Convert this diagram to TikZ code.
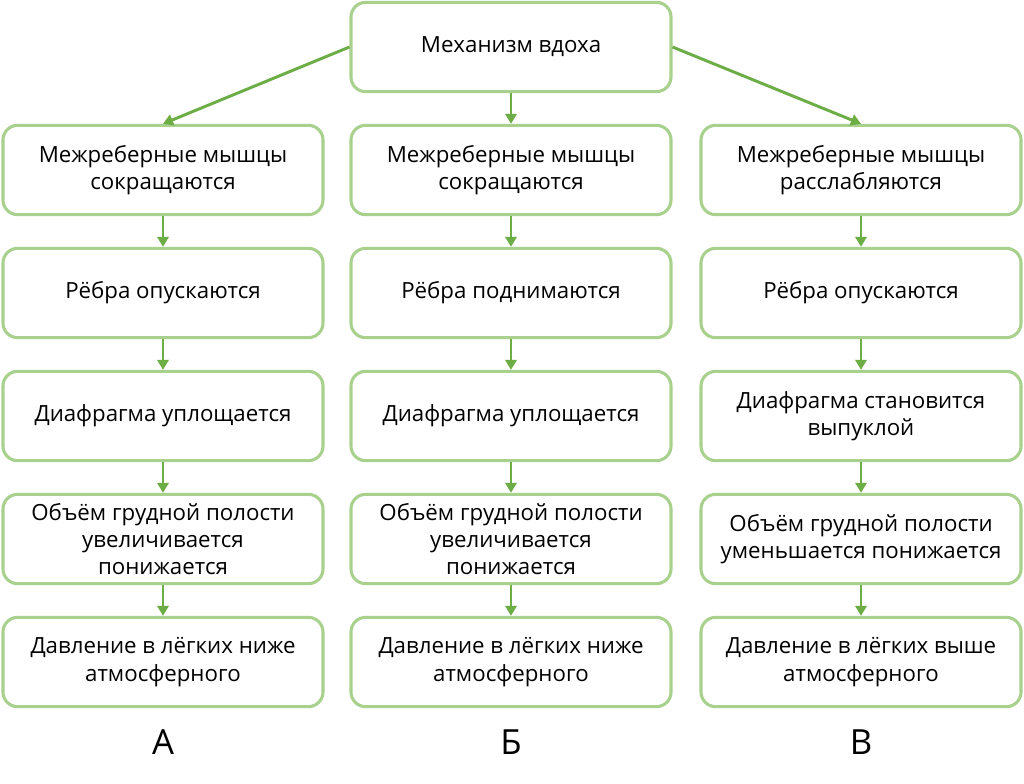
\documentclass[tikz,border=0pt]{standalone}
\usepackage{fontspec}
\setmainfont{Open Sans}
\usetikzlibrary{arrows.meta, positioning}

\definecolor{boxgreen}{HTML}{A9D18E}
\definecolor{arrowgreen}{HTML}{6DAD46}

\begin{document}
\begin{tikzpicture}[
    x=0.75pt,
    y=-0.75pt,
    node distance=92.25pt,
    on grid,
    box/.style={rectangle, rounded corners=11pt, draw=boxgreen, line width=2.3pt,
        minimum width=240pt, minimum height=67pt, align=center,
        font=\fontsize{16.7}{20.5}\selectfont},
    link/.style={draw=arrowgreen, line width=2.2pt, -{Triangle[length=7.5pt, width=8.5pt]}},
    letter/.style={font=\fontsize{26}{30}\selectfont},
]

    \useasboundingbox[fill=white] (0,0) rectangle (1024,784);

    \node[box] (top) at (511, 47) {Механизм вдоха};

    % column A
    \node[box]                (a1) at (163, 170) {Межреберные мышцы\\сокращаются};
    \node[box, below =of a1]  (a2) {Рёбра опускаются};
    \node[box, below =of a2]  (a3) {Диафрагма уплощается};
    \node[box, below =of a3]  (a4) {Объём грудной полости\\увеличивается\\понижается};
    \node[box, below =of a4]  (a5) {Давление в лёгких ниже\\атмосферного};

    % column B
    \node[box]                (b1) at (511, 170) {Межреберные мышцы\\сокращаются};
    \node[box, below =of b1]  (b2) {Рёбра поднимаются};
    \node[box, below =of b2]  (b3) {Диафрагма уплощается};
    \node[box, below =of b3]  (b4) {Объём грудной полости\\увеличивается\\понижается};
    \node[box, below =of b4]  (b5) {Давление в лёгких ниже\\атмосферного};

    % column V
    \node[box]                (c1) at (861, 170) {Межреберные мышцы\\расслабляются};
    \node[box, below =of c1]  (c2) {Рёбра опускаются};
    \node[box, below =of c2]  (c3) {Диафрагма становится\\выпуклой};
    \node[box, below =of c3]  (c4) {Объём грудной полости\\уменьшается понижается};
    \node[box, below =of c4]  (c5) {Давление в лёгких выше\\атмосферного};

    \node[letter] (la) at (163, 742) {А};
    \node[letter] (lb) at (511, 742) {Б};
    \node[letter] (lc) at (861, 742) {В};

    \draw[link] (top.west)  -- (a1.north);
    \draw[link] (top.south) -- (b1.north);
    \draw[link] (top.east)  -- (c1.north);

    \draw[link] (a1) -- (a2);
    \draw[link] (a2) -- (a3);
    \draw[link] (a3) -- (a4);
    \draw[link] (a4) -- (a5);

    \draw[link] (b1) -- (b2);
    \draw[link] (b2) -- (b3);
    \draw[link] (b3) -- (b4);
    \draw[link] (b4) -- (b5);

    \draw[link] (c1) -- (c2);
    \draw[link] (c2) -- (c3);
    \draw[link] (c3) -- (c4);
    \draw[link] (c4) -- (c5);
\end{tikzpicture}
\end{document}
